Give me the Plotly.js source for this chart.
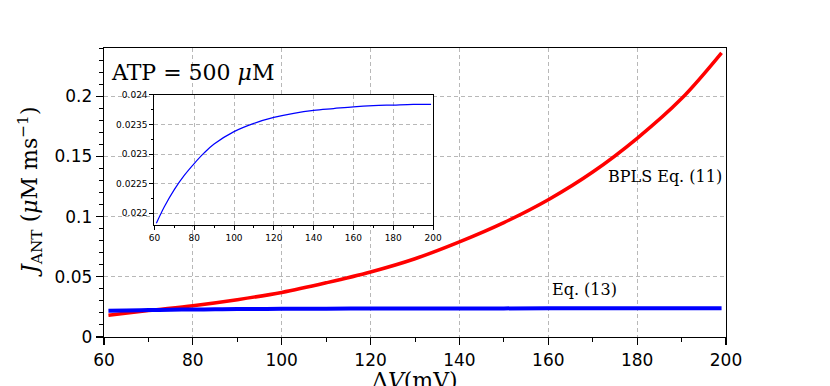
<!DOCTYPE html>
<html>
<head>
<meta charset="utf-8">
<script src="https://cdn.plot.ly/plotly-3.0.1.min.js"></script>
<style>
  body { margin: 0; background: #fff; }
  #chart { width: 830px; height: 386px; }
</style>
</head>
<body>
<div id="chart"></div>
<script>
// ----- data -----
// membrane potential (mV)
const dvBpls = [61, 70, 80, 90, 100, 110, 120, 130, 140, 150, 160, 170, 180, 190, 199];
// BPLS Eq. (11), J_ANT in uM/ms
const jBpls = [0.018, 0.022, 0.026, 0.031, 0.037, 0.045, 0.054, 0.065, 0.079, 0.095, 0.114, 0.137, 0.165, 0.198, 0.236];

// Eq. (13): nearly flat, same values used for main plot and inset
const dvEq13 = [61, 65, 70, 75, 80, 85, 90, 100, 110, 120, 130, 140, 150, 160, 170, 180, 190, 199];
const jEq13 = [0.02183, 0.02211, 0.02240, 0.02264, 0.02284, 0.02302, 0.02317, 0.02338, 0.02352, 0.02362, 0.02369, 0.02374, 0.02377, 0.02380, 0.02382, 0.02383, 0.02384, 0.02384];

const mainTicksX = [60, 80, 100, 120, 140, 160, 180, 200];

const chartDiv = document.getElementById("chart");

const gridStyle = {
  showgrid: true,
  gridcolor: "#b8b8b8",
  griddash: "4px,3px",
  gridwidth: 1,
  zeroline: false,
  showline: true,
  linecolor: "#000",
  linewidth: 1.3,
  mirror: true,
  ticks: "outside",
  tickcolor: "#000"
};

const traces = [
  {
    x: dvBpls, y: jBpls,
    type: "scatter", mode: "lines",
    line: { color: "#ff0000", width: 3.5, shape: "spline" },
    xaxis: "x", yaxis: "y"
  },
  {
    x: dvEq13, y: jEq13,
    type: "scatter", mode: "lines",
    line: { color: "#0000ff", width: 4, shape: "spline" },
    xaxis: "x", yaxis: "y"
  },
  {
    x: dvEq13, y: jEq13,
    type: "scatter", mode: "lines",
    line: { color: "#0000ff", width: 1.2, shape: "spline" },
    xaxis: "x2", yaxis: "y2"
  }
];

const layout = {
  width: 830,
  height: 386,
  margin: { l: 104, r: 104, t: 48, b: 49 },
  paper_bgcolor: "#fff",
  plot_bgcolor: "#fff",
  showlegend: false,
  font: { family: "DejaVu Sans", color: "#000" },
  xaxis: Object.assign({}, gridStyle, {
    range: [60, 200],
    tickvals: mainTicksX,
    ticklen: 7,
    tickwidth: 1.2,
    tickfont: { size: 17 },
    minor: { dtick: 10, ticks: "outside", ticklen: 4, tickwidth: 1, tickcolor: "#000", showgrid: false }
  }),
  yaxis: Object.assign({}, gridStyle, {
    range: [0, 0.24],
    dtick: 0.05,
    tick0: 0,
    ticklen: 7,
    tickwidth: 1.2,
    tickfont: { size: 17 },
    minor: { dtick: 0.01, ticks: "outside", ticklen: 4, tickwidth: 1, tickcolor: "#000", showgrid: false }
  }),
  xaxis2: Object.assign({}, gridStyle, {
    domain: [0.081, 0.529],
    anchor: "y2",
    range: [60, 200],
    dtick: 20,
    ticklen: 4,
    linewidth: 1,
    tickfont: { size: 9 },
    minor: { dtick: 10, ticks: "outside", ticklen: 2, tickcolor: "#000", showgrid: false }
  }),
  yaxis2: Object.assign({}, gridStyle, {
    domain: [0.3875, 0.8374],
    anchor: "x2",
    range: [0.0218, 0.024],
    dtick: 0.0005,
    tick0: 0.022,
    ticklen: 4,
    linewidth: 1,
    tickfont: { size: 9 },
    minor: { dtick: 0.00025, ticks: "outside", ticklen: 2, tickcolor: "#000", showgrid: false }
  }),
  annotations: [
    {
      text: "ATP = 500 <i>μ</i>M",
      xref: "paper", yref: "paper",
      x: 0.008, y: 0.915, xanchor: "left", yanchor: "middle",
      showarrow: false,
      font: { family: "DejaVu Serif", size: 22 }
    },
    {
      text: "BPLS Eq. (11)",
      xref: "paper", yref: "paper",
      x: 0.997, y: 0.557, xanchor: "right", yanchor: "middle",
      showarrow: false,
      font: { family: "DejaVu Serif", size: 16 }
    },
    {
      text: "Eq. (13)",
      xref: "paper", yref: "paper",
      x: 0.772, y: 0.163, xanchor: "center", yanchor: "middle",
      showarrow: false,
      font: { family: "DejaVu Serif", size: 16 }
    },
    {
      text: "<i>J</i><sub>ANT</sub> (<i>μ</i>M ms<sup>−1</sup>)",
      xref: "paper", yref: "paper",
      x: -0.119, y: 0.505, xanchor: "center", yanchor: "middle",
      textangle: -90,
      showarrow: false,
      font: { family: "DejaVu Serif", size: 22 }
    },
    {
      text: "Δ<i>V</i>(mV)",
      xref: "paper", yref: "paper",
      x: 0.5, y: -0.1, xanchor: "center", yanchor: "top",
      showarrow: false,
      font: { family: "DejaVu Serif", size: 22 }
    }
  ]
};

Plotly.newPlot(chartDiv, traces, layout, { staticPlot: true });
</script>
</body>
</html>
